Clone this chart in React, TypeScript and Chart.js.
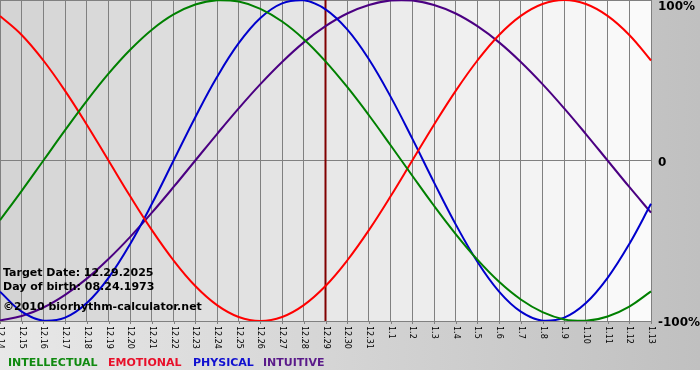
import React, { useEffect, useRef } from "react";
import { Chart, registerables } from "chart.js";

Chart.register(...registerables);

const dates = [
  "12.14", "12.15", "12.16", "12.17", "12.18", "12.19", "12.20", "12.21",
  "12.22", "12.23", "12.24", "12.25", "12.26", "12.27", "12.28", "12.29",
  "12.30", "12.31", "1.1", "1.2", "1.3", "1.4", "1.5", "1.6", "1.7", "1.8",
  "1.9", "1.10", "1.11", "1.12", "1.13",
];

const intellectual = [
  -37.2, -18.9, 0, 18.9, 37.2, 54.1, 69.0, 81.5, 91.0, 97.2, 99.9, 99.0, 94.5, 86.6, 75.6, 61.8,
  45.8, 28.2, 9.5, -9.5, -28.2, -45.8, -61.8, -75.6, -86.6, -94.5, -99.0, -99.9, -97.2, -91.0, -81.5,
];
const emotional = [
  90.1, 78.2, 62.3, 43.4, 22.3, 0, -22.3, -43.4, -62.3, -78.2, -90.1, -97.5, -100, -97.5, -90.1, -78.2,
  -62.3, -43.4, -22.3, 0, 22.3, 43.4, 62.3, 78.2, 90.1, 97.5, 100, 97.5, 90.1, 78.2, 62.3,
];
const physical = [
  -81.7, -94.2, -99.8, -97.9, -88.8, -73.1, -52.0, -27.0, 0, 27.0, 52.0, 73.1, 88.8, 97.9, 99.8, 94.2,
  81.7, 63.1, 39.8, 13.6, -13.6, -39.8, -63.1, -81.7, -94.2, -99.8, -97.9, -88.8, -73.1, -52.0, -27.0,
];
const intuitive = [
  -99.7, -96.9, -91.6, -83.7, -73.6, -61.4, -47.6, -32.5, -16.5, 0, 16.5, 32.5, 47.6, 61.4, 73.6, 83.7,
  91.6, 96.9, 99.7, 99.7, 96.9, 91.6, 83.7, 73.6, 61.4, 47.6, 32.5, 16.5, 0, -16.5, -32.5,
];

const targetDate = "12.29";
const yTickValues = [100, 0, -100];
const yTickTexts = ["100%", "0", "-100%"];
const infoLines = [
  "Target Date: 12.29.2025",
  "Day of birth: 08.24.1973",
  "\u00a92010 biorhythm-calculator.net",
];
const seriesNames = ["INTELLECTUAL", "EMOTIONAL", "PHYSICAL", "INTUITIVE"];
const seriesColors = ["#008000", "#ff0000", "#0000cc", "#4b0082"];
const legendColors = ["#108a10", "#e8102a", "#1010d0", "#5a1a8a"];
const legendX = [8, 108, 193, 263];

const FONT = "'DejaVu Sans', Verdana, sans-serif";

const bioPlugin = {
  id: "bio",
  beforeDraw(chart: any) {
    const { ctx, chartArea: a } = chart;
    const x = chart.scales.x;
    ctx.save();
    const g = ctx.createLinearGradient(0, 0, chart.width, 0);
    g.addColorStop(0, "#e8e8e8");
    g.addColorStop(1, "#c0c0c0");
    ctx.fillStyle = g;
    ctx.fillRect(0, 0, chart.width, chart.height);
    const n = dates.length - 1;
    for (let i = 0; i < n; i++) {
      const x0 = x.getPixelForValue(i);
      const x1 = x.getPixelForValue(i + 1);
      const c = Math.round(212 + ((250 - 212) * i) / (n - 1));
      ctx.fillStyle = `rgb(${c},${c},${c})`;
      ctx.fillRect(x0, a.top, x1 - x0 + 1, a.bottom - a.top);
    }
    ctx.restore();
  },
  beforeDatasetsDraw(chart: any) {
    const { ctx, chartArea: a } = chart;
    const x = chart.scales.x;
    const idx = dates.indexOf(targetDate);
    const px = x.getPixelForValue(idx);
    ctx.save();
    ctx.strokeStyle = "#800000";
    ctx.lineWidth = 2;
    ctx.beginPath();
    ctx.moveTo(px, a.top);
    ctx.lineTo(px, a.bottom);
    ctx.stroke();
    ctx.restore();
  },
  afterDraw(chart: any) {
    const { ctx, chartArea: a } = chart;
    const x = chart.scales.x;
    const y = chart.scales.y;
    ctx.save();
    ctx.strokeStyle = "#808080";
    ctx.lineWidth = 1;
    ctx.fillStyle = "#000";
    ctx.font = `8px ${FONT}`;
    ctx.textAlign = "left";
    ctx.textBaseline = "middle";
    dates.forEach((d, i) => {
      const px = Math.round(x.getPixelForValue(i)) + 0.5;
      ctx.beginPath();
      ctx.moveTo(px, a.bottom);
      ctx.lineTo(px, a.bottom + 3);
      ctx.stroke();
      ctx.save();
      ctx.translate(px, a.bottom + 5);
      ctx.rotate(Math.PI / 2);
      ctx.fillText(d, 0, 0);
      ctx.restore();
    });
    ctx.font = `bold 12px ${FONT}`;
    ctx.textAlign = "left";
    ctx.textBaseline = "middle";
    yTickValues.forEach((v, i) => {
      let py = y.getPixelForValue(v);
      if (i === 0) py += 7;
      else py += 2;
      ctx.fillText(yTickTexts[i], a.right + 7, py);
    });
    ctx.font = `bold 11px ${FONT}`;
    ctx.textBaseline = "alphabetic";
    const baselines = [276, 290, 310];
    infoLines.forEach((t, i) => ctx.fillText(t, 3, baselines[i]));
    ctx.font = `bold 11px ${FONT}`;
    seriesNames.forEach((n, i) => {
      ctx.fillStyle = legendColors[i];
      ctx.fillText(n, legendX[i], 366);
    });
    ctx.restore();
  },
};

export default function App() {
  const ref = useRef<HTMLCanvasElement>(null);
  useEffect(() => {
    if (!ref.current) return;
    const mk = (label: string, data: number[], color: string) => ({
      label,
      data,
      borderColor: color,
      backgroundColor: color,
      borderWidth: 2,
      pointRadius: 0,
      tension: 0.4,
      fill: false,
    });
    const chart = new Chart(ref.current, {
      type: "line",
      data: {
        labels: dates,
        datasets: [
          mk(seriesNames[0], intellectual, seriesColors[0]),
          mk(seriesNames[1], emotional, seriesColors[1]),
          mk(seriesNames[2], physical, seriesColors[2]),
          mk(seriesNames[3], intuitive, seriesColors[3]),
        ],
      },
      options: {
        animation: false,
        responsive: false,
        devicePixelRatio: 1,
        layout: { padding: { left: 0, top: 0, right: 49, bottom: 49 } },
        plugins: { legend: { display: false }, tooltip: { enabled: false } },
        scales: {
          x: {
            type: "category",
            offset: false,
            display: true,
            ticks: { display: false },
            grid: { color: "#808080", lineWidth: 1, drawTicks: false, offset: false },
            border: { display: false },
          },
          y: {
            position: "right",
            min: -100,
            max: 100,
            display: true,
            ticks: { display: false, stepSize: 100 },
            grid: { color: "#808080", lineWidth: 1, drawTicks: false },
            border: { display: false },
          },
        },
      },
      plugins: [bioPlugin],
    });
    return () => chart.destroy();
  }, []);
  return (
    <div style={{ position: "absolute", left: 0, top: 0, width: 700, height: 370 }}>
      <canvas ref={ref} width={700} height={370} />
    </div>
  );
}
